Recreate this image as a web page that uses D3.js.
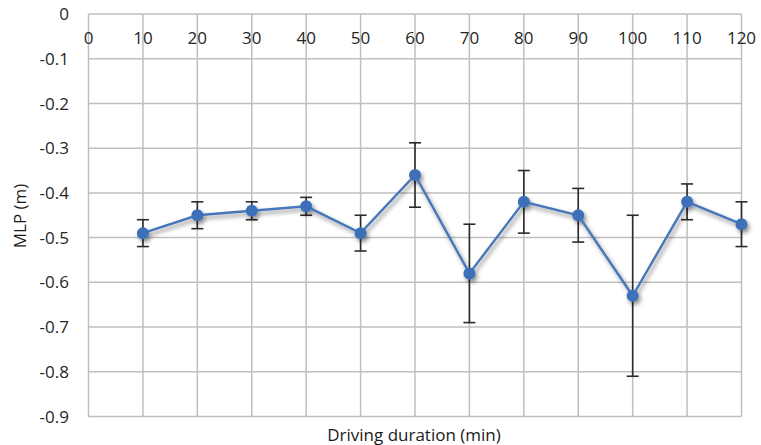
<!DOCTYPE html>
<html>
<head>
<meta charset="utf-8">
<script src="https://cdn.jsdelivr.net/npm/d3@7"></script>
<style>
html,body{margin:0;padding:0;background:#fff;}
svg{display:block;font-family:"Open Sans",sans-serif;}
</style>
</head>
<body>
<svg id="chart" width="761" height="445"></svg>
<script>
const durations = [10, 20, 30, 40, 50, 60, 70, 80, 90, 100, 110, 120];
const mlp = [-0.49, -0.45, -0.44, -0.43, -0.49, -0.36, -0.58, -0.42, -0.45, -0.63, -0.42, -0.47];
const errors = [0.03, 0.03, 0.02, 0.02, 0.04, 0.072, 0.11, 0.07, 0.06, 0.18, 0.04, 0.05];
const xTicks = [0, 10, 20, 30, 40, 50, 60, 70, 80, 90, 100, 110, 120];
const yTicks = [0, -0.1, -0.2, -0.3, -0.4, -0.5, -0.6, -0.7, -0.8, -0.9];

const svg = d3.select("#chart");
const m = {left: 88.5, top: 14, right: 741.5, bottom: 416.5};
const x = d3.scaleLinear().domain([0, 120]).range([m.left, m.right]);
const y = d3.scaleLinear().domain([0, -0.9]).range([m.top, m.bottom]);

const defs = svg.append("defs");
const f = defs.append("filter").attr("id", "shadow").attr("x", "-20%").attr("y", "-20%").attr("width", "140%").attr("height", "140%");
f.append("feDropShadow").attr("dx", 2).attr("dy", 3).attr("stdDeviation", 2.2).attr("flood-color", "#000").attr("flood-opacity", 0.45);

const gridColor = "#bfbfbf";
svg.append("g").selectAll("line").data(xTicks).join("line")
  .attr("x1", d => x(d)).attr("x2", d => x(d))
  .attr("y1", m.top).attr("y2", m.bottom)
  .attr("stroke", gridColor).attr("stroke-width", 1.5);
svg.append("g").selectAll("line").data(yTicks).join("line")
  .attr("x1", m.left).attr("x2", m.right)
  .attr("y1", d => y(d)).attr("y2", d => y(d))
  .attr("stroke", gridColor).attr("stroke-width", 1.5);

svg.append("g").selectAll("text").data(xTicks).join("text")
  .attr("x", d => x(d)).attr("y", 44)
  .attr("text-anchor", "middle")
  .attr("font-size", 17).attr("fill", "#262626")
  .text(d => d);

svg.append("g").selectAll("text").data(yTicks).join("text")
  .attr("x", 69).attr("y", d => y(d))
  .attr("dy", "0.36em")
  .attr("text-anchor", "end")
  .attr("font-size", 17).attr("fill", "#262626")
  .text(d => d === 0 ? "0" : d3.format(".1f")(d).replace("−", "-"));

const data = durations.map((d, i) => ({x: d, y: mlp[i], e: errors[i]}));

const eb = svg.append("g").attr("stroke", "#2b2b2b").attr("stroke-width", 1.6);
eb.selectAll("line.v").data(data).join("line").attr("class", "v")
  .attr("x1", d => x(d.x)).attr("x2", d => x(d.x))
  .attr("y1", d => y(d.y + d.e)).attr("y2", d => y(d.y - d.e));
eb.selectAll("line.t").data(data).join("line").attr("class", "t")
  .attr("x1", d => x(d.x) - 6).attr("x2", d => x(d.x) + 6)
  .attr("y1", d => y(d.y + d.e)).attr("y2", d => y(d.y + d.e));
eb.selectAll("line.b").data(data).join("line").attr("class", "b")
  .attr("x1", d => x(d.x) - 6).attr("x2", d => x(d.x) + 6)
  .attr("y1", d => y(d.y - d.e)).attr("y2", d => y(d.y - d.e));

const series = svg.append("g").attr("filter", "url(#shadow)");
series.append("path").datum(data)
  .attr("d", d3.line().x(d => x(d.x)).y(d => y(d.y)))
  .attr("fill", "none").attr("stroke", "#4677b8").attr("stroke-width", 2.4);
series.selectAll("circle").data(data).join("circle")
  .attr("cx", d => x(d.x)).attr("cy", d => y(d.y)).attr("r", 6)
  .attr("fill", "#3c70b8");

svg.append("text").attr("x", 414).attr("y", 441)
  .attr("text-anchor", "middle").attr("font-size", 17).attr("fill", "#1a1a1a")
  .text("Driving duration (min)");
svg.append("text").attr("transform", "translate(26,216) rotate(-90)")
  .attr("text-anchor", "middle").attr("font-size", 17).attr("fill", "#1a1a1a")
  .text("MLP (m)");
</script>
</body>
</html>
